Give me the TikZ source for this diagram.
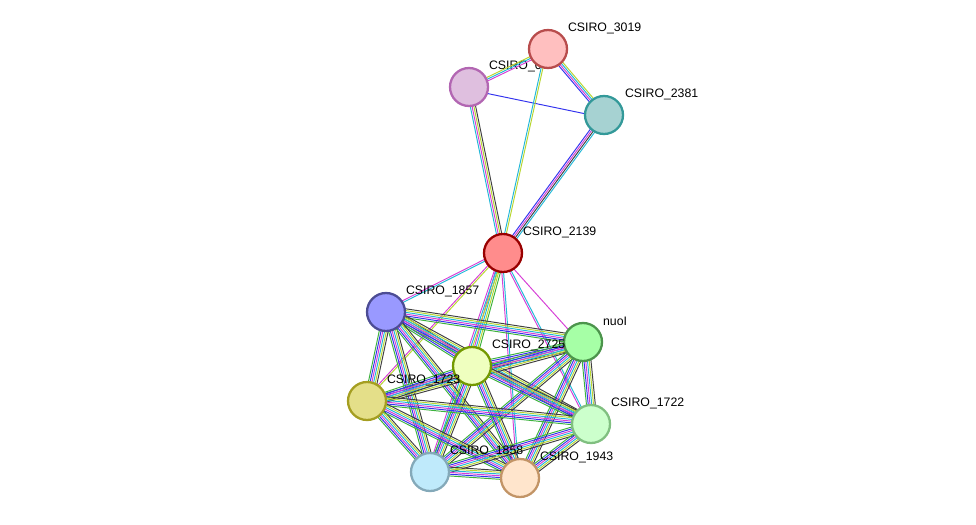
\documentclass[tikz,border=0pt]{standalone}
\usepackage{fontspec}
\setmainfont{Liberation Sans}
\usetikzlibrary{calc}
\definecolor{cgreen}{HTML}{3DB23D}
\definecolor{cblue}{HTML}{3333EE}
\definecolor{ccyan}{HTML}{22B8D8}
\definecolor{cmag}{HTML}{D63FD6}
\definecolor{cyel}{HTML}{B8D630}
\definecolor{cblack}{HTML}{404040}
\newcommand{\edge}[3]{%
  \foreach \c [count=\i] in {#3} {%
    \pgfmathsetmacro\o{(\i-2.5)*1.0}
    \draw[\c,line width=0.55pt] ($(#1)!\o pt!90:(#2)$) -- ($(#2)!\o pt!-90:(#1)$);
  }}
\tikzset{
  prot/.style={circle,minimum size=0.76cm,inner sep=0pt,line width=1.3pt},
  lbl/.style={font=\fontsize{7}{8}\selectfont,inner sep=1pt},
}
\begin{document}
\begin{tikzpicture}[x=0.02cm,y=-0.02cm]
\useasboundingbox (0,0) rectangle (976,524);
% protein positions
\coordinate (p3019) at (548,49);
\coordinate (p0) at (469,87);
\coordinate (p2381) at (604,115);
\coordinate (p2139) at (503,253);
\coordinate (p1857) at (386,312);
\coordinate (pnuoI) at (583,342);
\coordinate (p2725) at (472,366);
\coordinate (p1723) at (367,401);
\coordinate (p1722) at (591,424);
\coordinate (p1858) at (430,472);
\coordinate (p1943) at (520,478);
\node[lbl,anchor=west] at (487,66) {CSIRO\_0};
% edges
\edge{p0}{p3019}{cmag,ccyan,cyel}
\edge{p0}{p2381}{cblue}
\edge{p3019}{p2381}{cblue,cmag,ccyan,cyel}
\edge{p0}{p2139}{ccyan,cmag,cyel,cblack}
\edge{p3019}{p2139}{ccyan,cyel}
\edge{p2381}{p2139}{cblue,cmag,cblack,ccyan}
\edge{p2139}{p1857}{cmag,ccyan}
\edge{p2139}{pnuoI}{cmag}
\edge{p2139}{p2725}{cmag,ccyan,cyel,cgreen}
\edge{p2139}{p1723}{cmag,cyel}
\edge{p2139}{p1722}{cmag,ccyan}
\edge{p2139}{p1858}{cmag,ccyan,cyel}
\edge{p2139}{p1943}{cmag,ccyan}
\foreach \a/\b in {p1857/pnuoI,p1857/p2725,p1857/p1723,p1857/p1722,p1857/p1858,p1857/p1943,
  pnuoI/p2725,pnuoI/p1723,pnuoI/p1722,pnuoI/p1858,pnuoI/p1943,
  p2725/p1723,p2725/p1722,p2725/p1858,p2725/p1943,
  p1723/p1722,p1723/p1858,p1723/p1943,
  p1722/p1858,p1722/p1943,p1858/p1943}
  {\edge{\a}{\b}{cgreen,cblue,cmag,ccyan,cyel,cblack}}
% proteins
\node[prot,draw=red!60!black!70,fill=red!25!white] (n3019) at (p3019) {};
\node[prot,draw=violet!60,fill=violet!25] (n0) at (p0) {};
\node[prot,draw=teal!80,fill=teal!35!white] (n2381) at (p2381) {};
\node[prot,draw=red!60!black,fill=red!45!white] (n2139) at (p2139) {};
\node[prot,draw=blue!40!black!70,fill=blue!40!white] (n1857) at (p1857) {};
\node[prot,draw=green!40!black!70,fill=green!35!white] (nnuoI) at (pnuoI) {};
\node[prot,draw=lime!60!black,fill=lime!25!white] (n2725) at (p2725) {};
\node[prot,draw=olive!80,fill=yellow!40!olive!40!white] (n1723) at (p1723) {};
\node[prot,draw=green!50!black!50,fill=green!20!white] (n1722) at (p1722) {};
\node[prot,draw=cyan!50!black!60,fill=cyan!25!white] (n1858) at (p1858) {};
\node[prot,draw=orange!60!black!60,fill=orange!20!white] (n1943) at (p1943) {};
% labels
\node[lbl,anchor=west] at (566,28) {CSIRO\_3019};
\node[lbl,anchor=west] at (623,94) {CSIRO\_2381};
\node[lbl,anchor=west] at (521,232) {CSIRO\_2139};
\node[lbl,anchor=west] at (404,291) {CSIRO\_1857};
\node[lbl,anchor=west] at (601,321) {nuoI};
\node[lbl,anchor=west] at (490,345) {CSIRO\_2725};
\node[lbl,anchor=west] at (385,380) {CSIRO\_1723};
\node[lbl,anchor=west] at (609,403) {CSIRO\_1722};
\node[lbl,anchor=west] at (448,451) {CSIRO\_1858};
\node[lbl,anchor=west] at (538,457) {CSIRO\_1943};
\end{tikzpicture}
\end{document}
